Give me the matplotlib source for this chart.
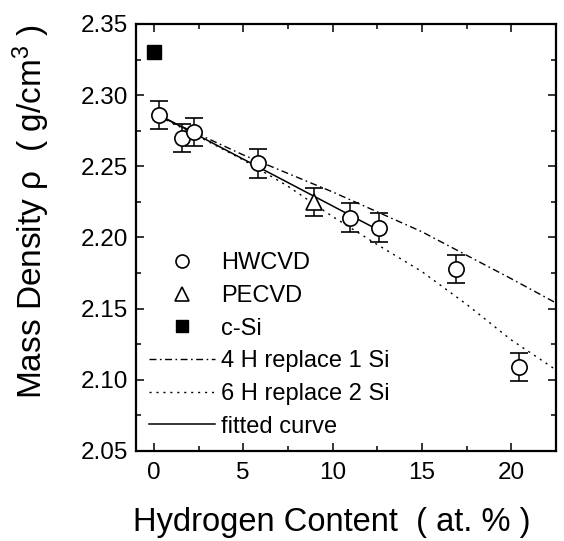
import matplotlib
matplotlib.use("Agg")
import matplotlib.pyplot as plt
from matplotlib.ticker import MultipleLocator

plt.rcParams['font.family'] = ['Liberation Sans', 'DejaVu Sans']
plt.rcParams['mathtext.fontset'] = 'custom'
plt.rcParams['mathtext.rm'] = 'Liberation Sans'
plt.rcParams['mathtext.it'] = 'Liberation Sans'

# measured points
hw_x = [0.3, 1.55, 2.25, 5.8, 10.95, 12.6, 16.9, 20.45]
hw_y = [2.286, 2.270, 2.274, 2.252, 2.214, 2.207, 2.178, 2.109]
hw_err = [0.010, 0.010, 0.010, 0.010, 0.010, 0.010, 0.010, 0.010]

pe_x = [8.95]
pe_y = [2.225]
pe_err = [0.010]

csi_x = [0.0]
csi_y = [2.330]

# model curves
m4_x = [0, 5, 10, 15, 20, 22.5]
m4_y = [2.287, 2.258, 2.232, 2.204, 2.171, 2.154]

m6_x = [0, 2.5, 5, 7.5, 10, 12.5, 15, 17.5, 20, 22.5]
m6_y = [2.287, 2.271, 2.2545, 2.236, 2.2147, 2.195, 2.176, 2.153, 2.128, 2.107]

fit_x = [0, 12.6]
fit_y = [2.288, 2.205]

labels = ['HWCVD', 'PECVD', 'c-Si', '4 H replace 1 Si', '6 H replace 2 Si',
          'fitted curve']

fig = plt.figure(figsize=(5.64, 5.41), dpi=100)
ax = fig.add_axes([0.2411, 0.1664, 0.7447, 0.7893])

l4, = ax.plot(m4_x, m4_y, color='k', lw=1.0, dashes=(5, 2.5, 1.2, 2.5))
l6, = ax.plot(m6_x, m6_y, color='k', lw=1.0, dashes=(1.5, 3.5))
lf, = ax.plot(fit_x, fit_y, color='k', lw=1.1)

eb1 = ax.errorbar(hw_x, hw_y, yerr=hw_err, fmt='o', ms=11, mfc='white',
                  mec='k', mew=1.2, ecolor='k', elinewidth=1.1, capsize=6.5,
                  capthick=1.1, zorder=3)
eb2 = ax.errorbar(pe_x, pe_y, yerr=pe_err, fmt='^', ms=12, mfc='white',
                  mec='k', mew=1.2, ecolor='k', elinewidth=1.1, capsize=6.5,
                  capthick=1.1, zorder=3)
sq, = ax.plot(csi_x, csi_y, 's', ms=10.5, color='k', ls='none', zorder=3)

ax.set_xlim(-1, 22.5)
ax.set_ylim(2.05, 2.35)
ax.xaxis.set_major_locator(MultipleLocator(5))
ax.xaxis.set_minor_locator(MultipleLocator(2.5))
ax.yaxis.set_major_locator(MultipleLocator(0.05))
ax.yaxis.set_minor_locator(MultipleLocator(0.025))
ax.yaxis.set_major_formatter(plt.FormatStrFormatter('%.2f'))
ax.tick_params(which='both', direction='in', top=True, right=True,
               labeltop=False, labelright=False, width=1.1, labelsize=17.5)
ax.tick_params(which='major', length=5.8)
ax.tick_params(which='minor', length=3.6)
ax.tick_params(axis='y', pad=6)
ax.tick_params(axis='x', pad=8)
for s in ax.spines.values():
    s.set_linewidth(1.6)

ax.set_xlabel('Hydrogen Content  ( at. % )', fontsize=23.5)
ax.set_ylabel(r'Mass Density $\mathrm{\rho}$  ( g/cm$^3$ )', fontsize=24)
ax.xaxis.set_label_coords(0.467, -0.132)
ax.yaxis.set_label_coords(-0.2, 0.56)

ax.legend([eb1[0], eb2[0], sq, l4, l6, lf], labels, loc='upper left',
          bbox_to_anchor=(0.03, 0.465), frameon=False, fontsize=17,
          numpoints=1, handlelength=2.8, handletextpad=0.28,
          labelspacing=0.45, borderpad=0, borderaxespad=0, markerscale=0.85)

fig.savefig('out.png', dpi=100)
